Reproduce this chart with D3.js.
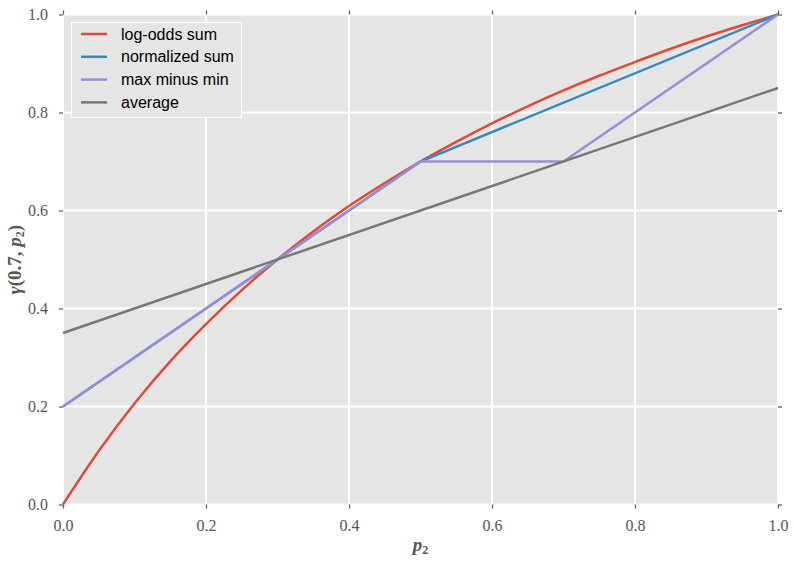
<!DOCTYPE html>
<html><head><meta charset="utf-8">
<script src="https://cdn.jsdelivr.net/npm/d3@7"></script>
<style>body{margin:0;background:#fff}svg{display:block}</style>
</head><body><svg id="c" width="794" height="562"></svg>
<script>
const p2 = [0,0.05,0.1,0.15,0.2,0.25,0.3,0.35,0.4,0.45,0.5,0.55,0.6,0.65,0.7,0.75,0.8,0.85,0.9,0.95,1.0];
const logOdds = [0,0.109,0.206,0.292,0.368,0.4375,0.5,0.557,0.609,0.656,0.7,0.740,0.778,0.8125,0.845,0.875,0.903,0.930,0.955,0.978,1.0];
const normX = [0,0.5,1.0];
const normY = [0.2,0.7,1.0];
const maxMinX = [0,0.5,0.7,1.0];
const maxMinY = [0.2,0.7,0.7,1.0];
const avgX = [0,1.0];
const avgY = [0.35,0.85];
const xTicks = [0,0.2,0.4,0.6,0.8,1.0];
const yTicks = [0,0.2,0.4,0.6,0.8,1.0];
const seriesNames = ["log-odds sum","normalized sum","max minus min","average"];
const colors = ["#E24A33","#348ABD","#988ED5","#777777"];

const svg = d3.select("#c");
const L=63,R=778,T=14.5,B=504.5;
const x = d3.scaleLinear().domain([0,1]).range([L,R]);
const y = d3.scaleLinear().domain([0,1]).range([B,T]);

svg.append("rect").attr("x",L).attr("y",T).attr("width",R-L).attr("height",B-T).attr("fill","#E5E5E5");
const g = svg.append("g");
xTicks.forEach(t=>g.append("line").attr("x1",x(t)).attr("x2",x(t)).attr("y1",T).attr("y2",B).attr("stroke","#fff").attr("stroke-width",2));
yTicks.forEach(t=>g.append("line").attr("y1",y(t)).attr("y2",y(t)).attr("x1",L).attr("x2",R).attr("stroke","#fff").attr("stroke-width",2));

const fmt = d3.format(".1f");
const axStyle = a=>{a.attr("font-family",null).attr("font-size",null);a.select(".domain").remove();a.selectAll(".tick line").attr("stroke","#555").attr("stroke-width",1.2);
  a.selectAll("text").attr("fill","#555").style("font-family","'Liberation Serif', serif").style("font-size","16px");};
svg.append("g").attr("transform",`translate(0,${B})`).call(d3.axisBottom(x).tickValues(xTicks).tickFormat(fmt).tickSize(4).tickPadding(11)).call(axStyle);
svg.append("g").attr("transform",`translate(0,${T})`).call(d3.axisTop(x).tickValues(xTicks).tickFormat("").tickSize(4)).call(axStyle);
svg.append("g").attr("transform",`translate(${L},0)`).call(d3.axisLeft(y).tickValues(yTicks).tickFormat(fmt).tickSize(4).tickPadding(11)).call(axStyle);
svg.append("g").attr("transform",`translate(${R},0)`).call(d3.axisRight(y).tickValues(yTicks).tickFormat("").tickSize(4)).call(axStyle);

const line = d3.line().x(d=>x(d[0])).y(d=>y(d[1]));
const clip = svg.append("clipPath").attr("id","cp").append("rect").attr("x",L-2).attr("y",T-2).attr("width",R-L+4).attr("height",B-T+4);
const data = [
  {pts:p2.map((v,i)=>[v,logOdds[i]]), curve:d3.curveMonotoneX},
  {pts:normX.map((v,i)=>[v,normY[i]]), curve:d3.curveLinear},
  {pts:maxMinX.map((v,i)=>[v,maxMinY[i]]), curve:d3.curveLinear},
  {pts:avgX.map((v,i)=>[v,avgY[i]]), curve:d3.curveLinear}
];
const lg = svg.append("g").attr("clip-path","url(#cp)");
data.forEach((s,i)=>lg.append("path").attr("d",line.curve(s.curve)(s.pts)).attr("fill","none").attr("stroke",colors[i]).attr("stroke-width",2.5));

// legend
const leg = svg.append("g");
leg.append("rect").attr("x",71.5).attr("y",22.5).attr("width",170).attr("height",95).attr("fill","#E5E5E5").attr("stroke","#fff").attr("stroke-width",1);
seriesNames.forEach((n,i)=>{
  const yy = 34+i*22.8;
  leg.append("line").attr("x1",81).attr("x2",107).attr("y1",yy).attr("y2",yy).attr("stroke",colors[i]).attr("stroke-width",2.5);
  leg.append("text").attr("x",121).attr("y",yy+5.5).text(n).attr("font-family","'Liberation Sans', Arial, sans-serif").attr("font-size",16).attr("fill","#000");
});

// axis labels
svg.append("text").attr("x",(L+R)/2).attr("y",551).attr("text-anchor","middle").attr("font-family","'Liberation Serif', serif").attr("font-style","italic").attr("font-weight","bold").attr("font-size",19).attr("fill","#555")
  .html('p<tspan font-size="12" dy="3" font-style="normal">2</tspan>');
svg.append("text").attr("transform",`translate(21,${(T+B)/2}) rotate(-90)`).attr("text-anchor","middle").attr("font-family","'Liberation Serif', serif").attr("font-weight","bold").attr("font-size",19).attr("fill","#555")
  .html('<tspan font-style="italic">γ</tspan>(0.7, <tspan font-style="italic">p</tspan><tspan font-size="12" dy="3">2</tspan><tspan dy="-3">)</tspan>');
</script></body></html>
